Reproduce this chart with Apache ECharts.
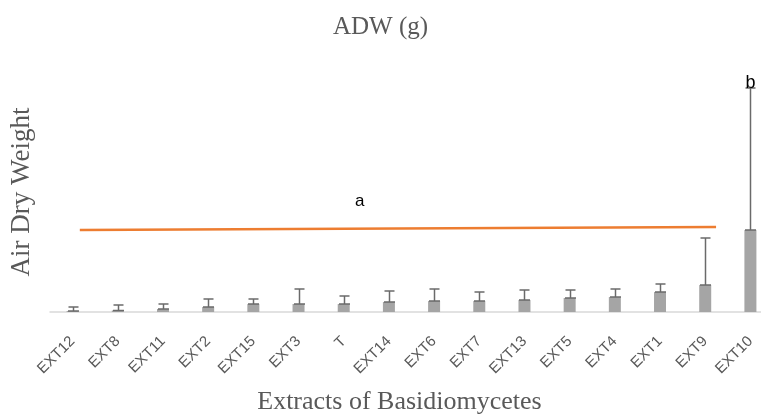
<!DOCTYPE html>
<html>
<head>
<meta charset="utf-8">
<script src="https://cdn.jsdelivr.net/npm/echarts@6/dist/echarts.min.js"></script>
<style>html,body{margin:0;padding:0;background:#fff}#c{width:761px;height:414px}</style>
</head>
<body>
<div id="c"></div>
<script>
var categories = ['EXT12','EXT8','EXT11','EXT2','EXT15','EXT3','T','EXT14','EXT6','EXT7','EXT13','EXT5','EXT4','EXT1','EXT9','EXT10'];
var adwValues = [0.01,0.015,0.03,0.05,0.08,0.08,0.08,0.10,0.11,0.11,0.12,0.14,0.15,0.20,0.27,0.82];
var adwErrors = [0.04,0.055,0.05,0.08,0.05,0.15,0.08,0.11,0.12,0.09,0.10,0.08,0.08,0.08,0.47,1.42];
var groupLetters = ['','','','','','','','','','','','','','','','b'];
var trendStart = [0.66, 0.82];
var trendEnd = [14.74, 0.85];
var trendLetter = 'a';

var chart = echarts.init(document.getElementById('c'));
var serif = '"Liberation Serif","DejaVu Serif",serif';
var sans = '"Liberation Sans","DejaVu Sans",sans-serif';

chart.setOption({
  animation: false,
  title: {
    text: 'ADW (g)', left: 'center', top: 10,
    textStyle: {fontFamily: serif, fontSize: 25, fontWeight: 'normal', color: '#595959'}
  },
  grid: {left: 50, right: -12, top: 72, bottom: 102, containLabel: false, outerBoundsMode: 'none'},
  xAxis: [{
    type: 'category', data: categories,
    axisLine: {lineStyle: {color: '#d9d9d9', width: 1.5}},
    axisTick: {show: false},
    axisLabel: {rotate: 45, margin: 27, fontFamily: sans, fontSize: 15, color: '#595959', interval: 0},
    name: 'Extracts of Basidiomycetes', nameLocation: 'middle', nameGap: 77,
    nameTextStyle: {fontFamily: serif, fontSize: 26, color: '#595959', padding: [0, 0, 0, -24]}
  }, {
    type: 'value', min: 0, max: 16, show: false
  }],
  yAxis: {
    type: 'value', min: 0, max: 2.4,
    axisLine: {show: false}, axisTick: {show: false}, axisLabel: {show: false},
    splitLine: {show: false},
    name: 'Air Dry Weight', nameLocation: 'middle', nameGap: 15,
    nameTextStyle: {fontFamily: serif, fontSize: 27, color: '#595959', padding: [0, 0, 0, 0]}
  },
  series: [{
    type: 'bar', data: adwValues, barWidth: 12,
    itemStyle: {color: '#a5a5a5'}
  }, {
    type: 'custom',
    data: adwValues.map(function (v, i) { return [i, v, v + adwErrors[i]]; }),
    renderItem: function (params, api) {
      var i = api.value(0);
      var lo = api.coord([i, api.value(1)]);
      var hi = api.coord([i, api.value(2)]);
      var x = Math.round(lo[0]) + 0.5;
      var st = {stroke: '#6a6a6a', lineWidth: 1.5};
      var ch = [
        {type: 'line', shape: {x1: x, y1: lo[1], x2: x, y2: hi[1]}, style: st},
        {type: 'line', shape: {x1: x - 5, y1: hi[1], x2: x + 5, y2: hi[1]}, style: st},
        {type: 'line', shape: {x1: x - 5.5, y1: lo[1], x2: x + 5.5, y2: lo[1]}, style: st}
      ];
      var letter = groupLetters[i];
      if (letter) {
        ch.push({type: 'text', style: {text: letter, x: x, y: hi[1] + 4, align: 'center', verticalAlign: 'bottom',
          font: '18px ' + sans, fill: '#000'}});
      }
      return {type: 'group', children: ch};
    },
    z: 3
  }, {
    type: 'line', xAxisIndex: 1,
    data: [trendStart, trendEnd],
    symbol: 'none',
    lineStyle: {color: '#ed7d31', width: 2.5},
    z: 4
  }],
  graphic: [{
    type: 'text', left: 355, top: 193,
    style: {text: trendLetter, font: '17px ' + sans, fill: '#000'}
  }]
});
</script>
</body>
</html>
